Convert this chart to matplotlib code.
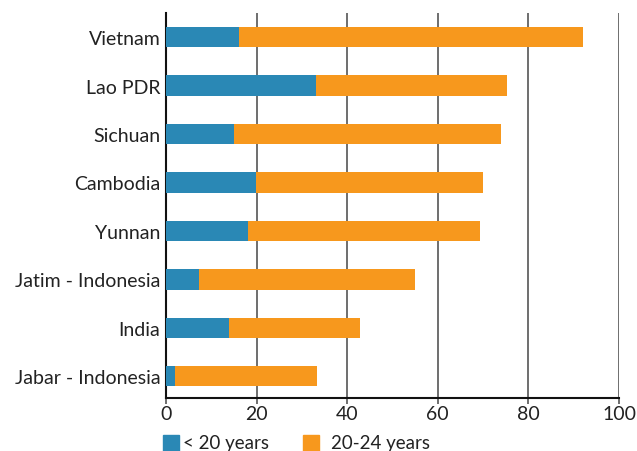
import matplotlib
matplotlib.use("Agg")
import matplotlib.pyplot as plt
from matplotlib.patches import Rectangle

categories = ["Vietnam", "Lao PDR", "Sichuan", "Cambodia", "Yunnan",
              "Jatim - Indonesia", "India", "Jabar - Indonesia"]
under20 = [16.1, 33.1, 15.0, 19.9, 18.1, 7.3, 13.9, 2.0]
age20_24 = [75.9, 42.2, 59.0, 50.1, 51.2, 47.7, 28.9, 31.3]
xticks = [0, 20, 40, 60, 80, 100]
legend_labels = ["< 20 years", "20-24 years"]

blue = "#2a88b5"
orange = "#f7981d"
txt = "#222222"

plt.rcParams['font.family'] = ['Lato', 'DejaVu Sans']

W, H = 637, 452
fig = plt.figure(figsize=(W/100, H/100), dpi=100)
ax = fig.add_axes([166/W, 1-399/H, (619-166)/W, (399-14)/H])

n = len(categories)
ypos = list(range(n-1, -1, -1))
ax.barh(ypos, under20, height=0.42, color=blue, zorder=3)
ax.barh(ypos, age20_24, left=under20, height=0.42, color=orange, zorder=3)

ax.set_xlim(0, 100)
ax.set_ylim(-0.45, 7.5)
ax.set_xticks(xticks)
ax.set_xticklabels([str(t) for t in xticks], fontsize=14, color=txt)
ax.set_yticks(ypos)
ax.set_yticklabels(categories, fontsize=14, color=txt)
ax.tick_params(axis='y', length=0, pad=4)
ax.tick_params(axis='x', length=4, width=1.2, color="#555555", pad=1)
ax.xaxis.grid(True, color="#555555", linewidth=1.2, zorder=0)
for s in ["top", "right"]:
    ax.spines[s].set_visible(False)
for s in ["left", "bottom"]:
    ax.spines[s].set_linewidth(1.5)
    ax.spines[s].set_color("#111111")

# legend, drawn manually in pixel coords
items = [(163, 183, blue, legend_labels[0]), (303, 331, orange, legend_labels[1])]
for sx, tx, col, lab in items:
    fig.patches.append(Rectangle((sx/W, 1-452/H), 16/W, 16/H, transform=fig.transFigure,
                                 color=col, figure=fig))
    fig.text(tx/W, 1-444/H, lab, fontsize=13.5, color=txt, va="center", ha="left")

fig.savefig("out.png", dpi=100)
